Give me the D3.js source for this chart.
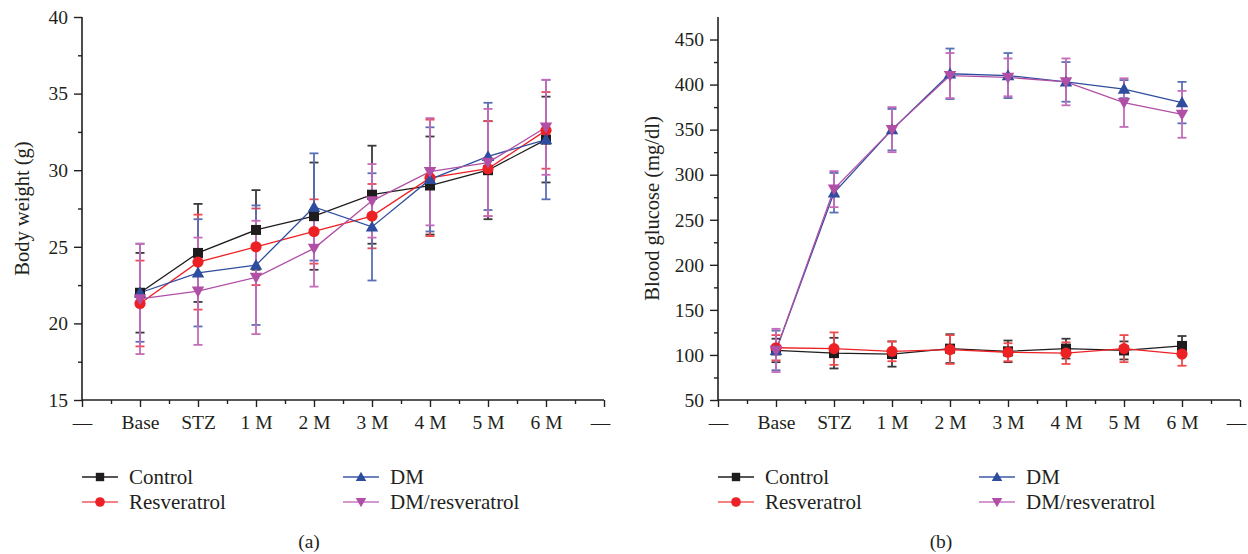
<!DOCTYPE html>
<html>
<head>
<meta charset="utf-8">
<script src="https://cdn.jsdelivr.net/npm/d3@7"></script>
<style>
  html, body { margin: 0; padding: 0; background: #fff; }
  svg { display: block; }
  text { font-family: "Liberation Serif", "Times New Roman", serif; fill: #231f20; }
</style>
</head>
<body>
<svg id="chart" width="1248" height="554"></svg>
<script>
// ---------------- DATA ----------------
const categories = ["Base", "STZ", "1 M", "2 M", "3 M", "4 M", "5 M", "6 M"];
const seriesNames = ["Control", "Resveratrol", "DM", "DM/resveratrol"];

// Panel (a): body weight (g), mean and SD
const weightControl      = [22.0, 24.6, 26.1, 27.0, 28.4, 29.0, 30.0, 32.0];
const weightControlSD    = [2.6, 3.2, 2.6, 3.5, 3.2, 3.2, 3.2, 2.8];
const weightResveratrol  = [21.3, 24.0, 25.0, 26.0, 27.0, 29.5, 30.1, 32.6];
const weightResveratrolSD= [2.8, 3.1, 2.5, 2.1, 2.1, 3.8, 3.1, 2.5];
const weightDM           = [22.0, 23.3, 23.8, 27.6, 26.3, 29.4, 30.9, 32.0];
const weightDMSD         = [3.2, 3.5, 3.9, 3.5, 3.5, 3.4, 3.5, 3.9];
const weightDMRes        = [21.6, 22.1, 23.0, 24.9, 28.0, 29.9, 30.5, 32.8];
const weightDMResSD      = [3.6, 3.5, 3.7, 2.5, 2.4, 3.5, 3.5, 3.1];

// Panel (b): blood glucose (mg/dl), mean and SD
const glucoseControl      = [105, 102, 101, 107, 104, 107, 105, 110];
const glucoseControlSD    = [13, 17, 14, 16, 12, 11, 10, 11];
const glucoseResveratrol  = [108, 107, 104, 106, 103, 102, 107, 101];
const glucoseResveratrolSD= [14, 18, 11, 16, 10, 12, 15, 13];
const glucoseDM           = [105, 280, 350, 412, 410, 403, 395, 380];
const glucoseDMSD         = [22, 22, 23, 28, 25, 22, 10, 23];
const glucoseDMRes        = [105, 284, 350, 410, 408, 403, 380, 367];
const glucoseDMResSD      = [24, 20, 25, 25, 21, 26, 27, 26];

const weightTicks  = [15, 20, 25, 30, 35, 40];
const glucoseTicks = [50, 100, 150, 200, 250, 300, 350, 400, 450];

// ---------------- STYLE ----------------
const lineColors  = ["#1f1c1d", "#ed2024", "#2f4d9e", "#b04fa5"];
const errColors   = ["#3a3a3a", "#f04a4e", "#5a70b6", "#c46cb9"];
const legendLineColors = ["#1f1c1d", "#f0595c", "#3d58a6", "#c777bf"];
const markerShapes = ["square", "circle", "triangleUp", "triangleDown"];

const svg = d3.select("#chart");

function markerPath(shape, s) {
  if (shape === "square") return `M${-s},${-s}H${s}V${s}H${-s}Z`;
  if (shape === "circle") return d3.symbol(d3.symbolCircle, Math.PI * (s + 0.6) * (s + 0.6))();
  if (shape === "triangleUp") { const h = s * 1.25; return `M0,${-h}L${h},${h * 0.75}L${-h},${h * 0.75}Z`; }
  const h = s * 1.25; return `M0,${h}L${h},${-h * 0.75}L${-h},${-h * 0.75}Z`;
}

function drawPanel(opts) {
  const g = svg.append("g");
  const x = d3.scaleLinear().domain([-1, 8]).range([opts.x0, opts.x1]);
  const y = d3.scaleLinear().domain(opts.yDomain).range([400, 17]);

  // Y axis
  const yAxis = d3.axisLeft(y).tickValues(opts.yTicks).tickSize(8).tickPadding(6).tickFormat(d3.format("d"));
  const ya = g.append("g").attr("transform", `translate(${opts.x0},0)`).call(yAxis);
  const yMinor = d3.axisLeft(y).tickValues(opts.yMinor).tickSize(4).tickFormat("");
  const ym = g.append("g").attr("transform", `translate(${opts.x0},0)`).call(yMinor);
  ym.select(".domain").remove();

  // X axis
  const xLabels = ["—"].concat(categories).concat(["—"]);
  const xAxis = d3.axisBottom(x).tickValues(d3.range(-1, 9)).tickSize(7).tickPadding(8)
    .tickFormat(d => xLabels[d + 1]);
  const xa = g.append("g").attr("transform", `translate(0,400)`).call(xAxis);
  const xMinor = d3.axisBottom(x).tickValues(d3.range(-0.5, 8, 1)).tickSize(4).tickFormat("");
  const xm = g.append("g").attr("transform", `translate(0,400)`).call(xMinor);
  xm.select(".domain").remove();

  [ya, ym, xa, xm].forEach(a => {
    a.selectAll("path.domain").attr("stroke", "#231f20").attr("stroke-width", 1.6);
    a.selectAll(".tick line").attr("stroke", "#231f20").attr("stroke-width", 1.4);
    a.selectAll("text").style("font-family", '"Liberation Serif", serif').style("font-size", "19.5px").attr("fill", "#231f20");
  });
  // keep the trailing dash label inside the canvas
  xa.selectAll(".tick").filter(d => d === 8).select("text").attr("dx", -4);
  ya.select(".domain").attr("d", `M0,${y.range()[0]}V${y.range()[1]}`);
  xa.select(".domain").attr("d", `M${x.range()[0]},0H${x.range()[1]}`);

  // Y title
  g.append("text")
    .attr("transform", `translate(${opts.titleX},${(400 + 17) / 2}) rotate(-90)`)
    .attr("text-anchor", "middle").attr("dominant-baseline", "central")
    .style("font-size", "20.5px").text(opts.yTitle);

  // Lines
  const line = d3.line().x((d, i) => x(i)).y(d => y(d));
  opts.series.forEach((s, k) => {
    g.append("path").datum(s.mean).attr("d", line)
      .attr("fill", "none").attr("stroke", lineColors[k]).attr("stroke-width", 1.3);
  });
  // Error bars
  opts.series.forEach((s, k) => {
    const eb = g.append("g").attr("stroke", errColors[k]).attr("stroke-width", 1.8).attr("fill", "none");
    s.mean.forEach((m, i) => {
      const cx = x(i), yt = y(m + s.sd[i]), yb = y(m - s.sd[i]);
      eb.append("line").attr("x1", cx).attr("x2", cx).attr("y1", yt).attr("y2", yb);
      eb.append("line").attr("x1", cx - 4.5).attr("x2", cx + 4.5).attr("y1", yt).attr("y2", yt);
      eb.append("line").attr("x1", cx - 4.5).attr("x2", cx + 4.5).attr("y1", yb).attr("y2", yb);
    });
  });
  // Markers
  opts.series.forEach((s, k) => {
    g.append("g").selectAll("path").data(s.mean).join("path")
      .attr("transform", (d, i) => `translate(${x(i)},${y(d)})`)
      .attr("d", markerPath(markerShapes[k], 5))
      .attr("fill", lineColors[k]);
  });

  // Legend
  const lg = g.append("g");
  const items = [
    { k: 0, lx: opts.x0, ty: 477 },
    { k: 1, lx: opts.x0, ty: 502 },
    { k: 2, lx: opts.x0 + 261, ty: 477 },
    { k: 3, lx: opts.x0 + 261, ty: 502 }
  ];
  items.forEach(it => {
    lg.append("line").attr("x1", it.lx).attr("x2", it.lx + 36).attr("y1", it.ty).attr("y2", it.ty)
      .attr("stroke", legendLineColors[it.k]).attr("stroke-width", 1.5);
    lg.append("path").attr("transform", `translate(${it.lx + 18},${it.ty})`)
      .attr("d", markerPath(markerShapes[it.k], 4.2)).attr("fill", lineColors[it.k]);
    lg.append("text").attr("x", it.lx + 47).attr("y", it.ty).attr("dominant-baseline", "central")
      .style("font-size", "21px").text(seriesNames[it.k]);
  });

  g.append("text").attr("x", opts.labelX).attr("y", 541).attr("text-anchor", "middle")
    .attr("dominant-baseline", "central").style("font-size", "19.5px").text(opts.panelLabel);
}

drawPanel({
  x0: 82, x1: 604, yDomain: [15, 40], yTicks: weightTicks,
  yMinor: [17.5, 22.5, 27.5, 32.5, 37.5],
  yTitle: "Body weight (g)", titleX: 22, panelLabel: "(a)", labelX: 309,
  series: [
    { mean: weightControl, sd: weightControlSD },
    { mean: weightResveratrol, sd: weightResveratrolSD },
    { mean: weightDM, sd: weightDMSD },
    { mean: weightDMRes, sd: weightDMResSD }
  ]
});

drawPanel({
  x0: 718, x1: 1240, yDomain: [50, 475], yTicks: glucoseTicks,
  yMinor: [75, 125, 175, 225, 275, 325, 375, 425],
  yTitle: "Blood glucose (mg/dl)", titleX: 652, panelLabel: "(b)", labelX: 941,
  series: [
    { mean: glucoseControl, sd: glucoseControlSD },
    { mean: glucoseResveratrol, sd: glucoseResveratrolSD },
    { mean: glucoseDM, sd: glucoseDMSD },
    { mean: glucoseDMRes, sd: glucoseDMResSD }
  ]
});
</script>
</body>
</html>
